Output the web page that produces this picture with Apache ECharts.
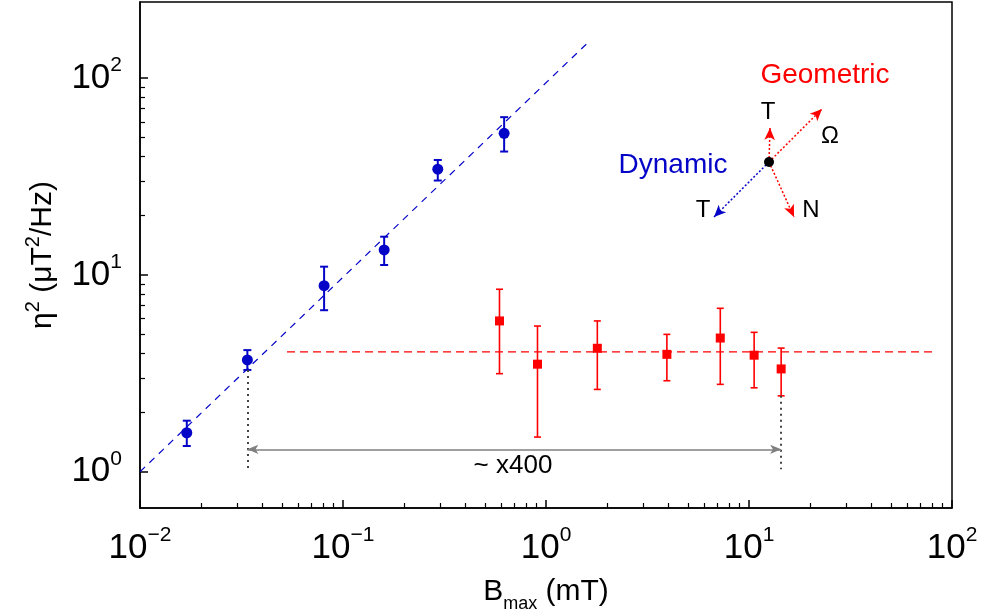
<!DOCTYPE html>
<html>
<head>
<meta charset="utf-8">
<script src="https://cdn.jsdelivr.net/npm/echarts@6/dist/echarts.min.js"></script>
<style>
  html, body { margin: 0; padding: 0; background: #fff; }
</style>
</head>
<body>
<div id="myechart" style="width:982px;height:615px"></div>
<script>
// measured points (log-log)
const bDyn = [0.0170, 0.0338, 0.0807, 0.1595, 0.293, 0.622];
const etaDyn = [1.578, 3.70, 8.82, 13.4, 34.5, 52.5];
const etaDynLo = [1.351, 3.29, 6.62, 11.24, 30.2, 42.4];
const etaDynHi = [1.817, 4.15, 11.02, 15.65, 38.4, 63.4];

const bGeo = [0.590, 0.908, 1.79, 3.94, 7.22, 10.6, 14.4];
const etaGeo = [5.84, 3.52, 4.24, 3.95, 4.78, 3.91, 3.33];
const etaGeoLo = [3.15, 1.50, 2.62, 2.90, 2.78, 2.67, 2.43];
const etaGeoHi = [8.46, 5.50, 5.84, 4.99, 6.77, 5.11, 4.25];

// fit lines
const dynFitB = [0.01, 1.58];
const dynFitEta = [1.0, 149];
const geoFitB = [0.053, 83];
const geoFitEta = [4.07, 4.07];

// axes
const xRange = [0.01, 100];
const yRange = [0.654, 244];
const xDecades = [-2, -1, 0, 1, 2];
const yDecades = [0, 1, 2];

// "~x400" marker ends
const gapLeft = { b: 0.0338, top: 3.29 };
const gapRight = { b: 14.4, top: 2.43 };
const gapY = 1.30;
const gapFoot = 1.03;

const L = Math.log10;
const FONT = "'Liberation Sans', Arial, sans-serif";
const BLUE = "#0505c8";
const RED = "#ff0000";

function minors(from, to) {
    let out = [];
    for (let n = from; n < to; n++) {
        for (let k = 2; k <= 9; k++) out.push(n + L(k));
    }
    return out;
}

function expLabel(v) {
    let n = Math.round(v);
    let s = n < 0 ? "\u2212" + (-n) : "" + n;
    return "{b|10}{s|" + s + "}";
}

// bottom padding lifts a middle-aligned token by half of it (superscript),
// top padding drops it (subscript)
let labelRich = {
    b: { fontSize: 35, fontFamily: FONT, color: "#000" },
    s: { fontSize: 21, padding: [0, 0, 26, 0], fontFamily: FONT, color: "#000" }
};

function errBar(cap, color, width) {
    return function (params, api) {
        let x = api.value(0);
        let lo = api.coord([x, api.value(1)]);
        let hi = api.coord([x, api.value(2)]);
        let st = { stroke: color, lineWidth: width };
        return {
            type: "group",
            children: [
                { type: "line", shape: { x1: lo[0], y1: lo[1], x2: hi[0], y2: hi[1] }, style: st },
                { type: "line", shape: { x1: lo[0] - cap, y1: lo[1], x2: lo[0] + cap, y2: lo[1] }, style: st },
                { type: "line", shape: { x1: hi[0] - cap, y1: hi[1], x2: hi[0] + cap, y2: hi[1] }, style: st }
            ]
        };
    };
}

let dynPts = bDyn.map((b, i) => [L(b), L(etaDyn[i])]);
let dynErr = bDyn.map((b, i) => [L(b), L(etaDynLo[i]), L(etaDynHi[i])]);
let geoPts = bGeo.map((b, i) => [L(b), L(etaGeo[i])]);
let geoErr = bGeo.map((b, i) => [L(b), L(etaGeoLo[i]), L(etaGeoHi[i])]);

let option = {
    animation: false,
    grid: {
        left: 140, right: 30, top: 2, bottom: 107,
        outerBoundsMode: "none", containLabel: false,
        show: true, borderColor: "#000", borderWidth: 1.5
    },
    xAxis: [
        {
            type: "value", min: L(xRange[0]), max: L(xRange[1]), position: "bottom",
            axisLine: { show: true, onZero: false, lineStyle: { color: "#000", width: 1.5 } },
            axisTick: { show: true, inside: true, length: 8, customValues: xDecades, lineStyle: { color: "#000", width: 1.5 } },
            axisLabel: { customValues: xDecades, margin: 17, formatter: expLabel, rich: labelRich },
            splitLine: { show: false },
            name: "{b|B}{sub|max}{b| (mT)}",
            nameLocation: "middle",
            nameGap: 63,
            nameTextStyle: {
                rich: {
                    b: { fontSize: 30, fontFamily: FONT, color: "#000" },
                    sub: { fontSize: 18, padding: [24, 0, 0, 0], fontFamily: FONT, color: "#000" }
                }
            }
        },
        {
            type: "value", min: L(xRange[0]), max: L(xRange[1]), position: "bottom",
            axisLine: { show: false, onZero: false },
            axisTick: { show: true, inside: true, length: 5, customValues: minors(-2, 2), lineStyle: { color: "#000", width: 1.2 } },
            axisLabel: { show: false },
            splitLine: { show: false }
        }
    ],
    yAxis: [
        {
            type: "value", min: L(yRange[0]), max: L(yRange[1]), position: "left",
            axisLine: { show: true, onZero: false, lineStyle: { color: "#000", width: 1.5 } },
            axisTick: { show: true, inside: true, length: 8, customValues: yDecades, lineStyle: { color: "#000", width: 1.5 } },
            axisLabel: { customValues: yDecades, margin: 18, formatter: expLabel, rich: labelRich },
            splitLine: { show: false },
            name: "{n|\u03b7}{s|2}{n| (\u03bcT}{s|2}{n|/Hz)}",
            nameLocation: "middle",
            nameRotate: 90,
            nameGap: 77,
            nameTextStyle: {
                rich: {
                    n: { fontSize: 30, fontFamily: FONT, color: "#000" },
                    s: { fontSize: 20, padding: [0, 0, 20, 0], fontFamily: FONT, color: "#000" }
                }
            }
        },
        {
            type: "value", min: L(yRange[0]), max: L(yRange[1]), position: "left",
            axisLine: { show: false, onZero: false },
            axisTick: { show: true, inside: true, length: 5, customValues: minors(0, 2), lineStyle: { color: "#000", width: 1.2 } },
            axisLabel: { show: false },
            splitLine: { show: false }
        }
    ],
    series: [
        {
            name: "dynFit", type: "line", symbol: "none", silent: true,
            data: dynFitB.map((b, i) => [L(b), L(dynFitEta[i])]),
            lineStyle: { color: BLUE, width: 1.2, type: [7, 6] },
            markLine: {
                silent: true, animation: false, label: { show: false },
                data: [
                    [
                        { coord: [L(gapLeft.b), L(gapLeft.top)], symbol: "none", lineStyle: { color: "#444", width: 2, type: [2, 4] } },
                        { coord: [L(gapLeft.b), L(gapFoot)], symbol: "none" }
                    ],
                    [
                        { coord: [L(gapRight.b), L(gapRight.top)], symbol: "none", lineStyle: { color: "#444", width: 2, type: [2, 4] } },
                        { coord: [L(gapRight.b), L(gapFoot)], symbol: "none" }
                    ],
                    [
                        { coord: [L(gapLeft.b), L(gapY)], symbol: "arrow", symbolSize: [7, 11], lineStyle: { color: "#808080", width: 1.5, type: "solid" } },
                        { coord: [L(gapRight.b), L(gapY)], symbol: "arrow", symbolSize: [7, 11] }
                    ]
                ]
            }
        },
        {
            name: "geoFit", type: "line", symbol: "none", silent: true,
            data: geoFitB.map((b, i) => [L(b), L(geoFitEta[i])]),
            lineStyle: { color: RED, width: 1.2, type: [8, 5] },
            markLine: {
                silent: true, animation: false, label: { show: false },
                symbolSize: [8, 12],
                data: [
                    [
                        { x: 769, y: 162, symbol: "none", lineStyle: { color: RED, width: 1.5, type: [2, 2] } },
                        { x: 770, y: 128, symbol: "arrow" }
                    ],
                    [
                        { x: 769, y: 162, symbol: "none", lineStyle: { color: RED, width: 1.5, type: [2, 2] } },
                        { x: 822, y: 109, symbol: "arrow" }
                    ],
                    [
                        { x: 769, y: 162, symbol: "none", lineStyle: { color: RED, width: 1.5, type: [2, 2] } },
                        { x: 794, y: 217, symbol: "arrow" }
                    ],
                    [
                        { x: 769, y: 162, symbol: "none", lineStyle: { color: BLUE, width: 1.5, type: [2, 2] } },
                        { x: 714, y: 217, symbol: "arrow" }
                    ]
                ]
            }
        },
        {
            name: "dynErr", type: "custom", silent: true,
            renderItem: errBar(4, BLUE, 2),
            encode: { x: 0, y: [1, 2] },
            data: dynErr
        },
        {
            name: "geoErr", type: "custom", silent: true,
            renderItem: errBar(3.5, RED, 1.6),
            encode: { x: 0, y: [1, 2] },
            data: geoErr
        },
        {
            name: "Dynamic", type: "scatter", symbol: "circle", symbolSize: 11,
            itemStyle: { color: BLUE, opacity: 1 },
            data: dynPts
        },
        {
            name: "Geometric", type: "scatter", symbol: "rect", symbolSize: 9,
            itemStyle: { color: RED, opacity: 1 },
            data: geoPts
        }
    ],
    graphic: [
        { type: "circle", shape: { cx: 769, cy: 162, r: 5 }, style: { fill: "#000" }, z: 100 },
        { type: "text", x: 825, y: 75, style: { text: "Geometric", fill: RED, font: "28px " + FONT, align: "center", verticalAlign: "middle" } },
        { type: "text", x: 768, y: 112, style: { text: "T", fill: "#000", font: "24px " + FONT, align: "center", verticalAlign: "middle" } },
        { type: "text", x: 830, y: 136, style: { text: "\u03a9", fill: "#000", font: "24px " + FONT, align: "center", verticalAlign: "middle" } },
        { type: "text", x: 673, y: 165, style: { text: "Dynamic", fill: BLUE, font: "28px " + FONT, align: "center", verticalAlign: "middle" } },
        { type: "text", x: 703, y: 210, style: { text: "T", fill: "#000", font: "24px " + FONT, align: "center", verticalAlign: "middle" } },
        { type: "text", x: 811, y: 210, style: { text: "N", fill: "#000", font: "24px " + FONT, align: "center", verticalAlign: "middle" } },
        { type: "text", x: 513, y: 466, style: { text: "~ x400", fill: "#000", font: "26px " + FONT, align: "center", verticalAlign: "middle" } }
    ]
};

let myChart = echarts.init(document.getElementById("myechart"));
myChart.setOption(option);
</script>
</body>
</html>
